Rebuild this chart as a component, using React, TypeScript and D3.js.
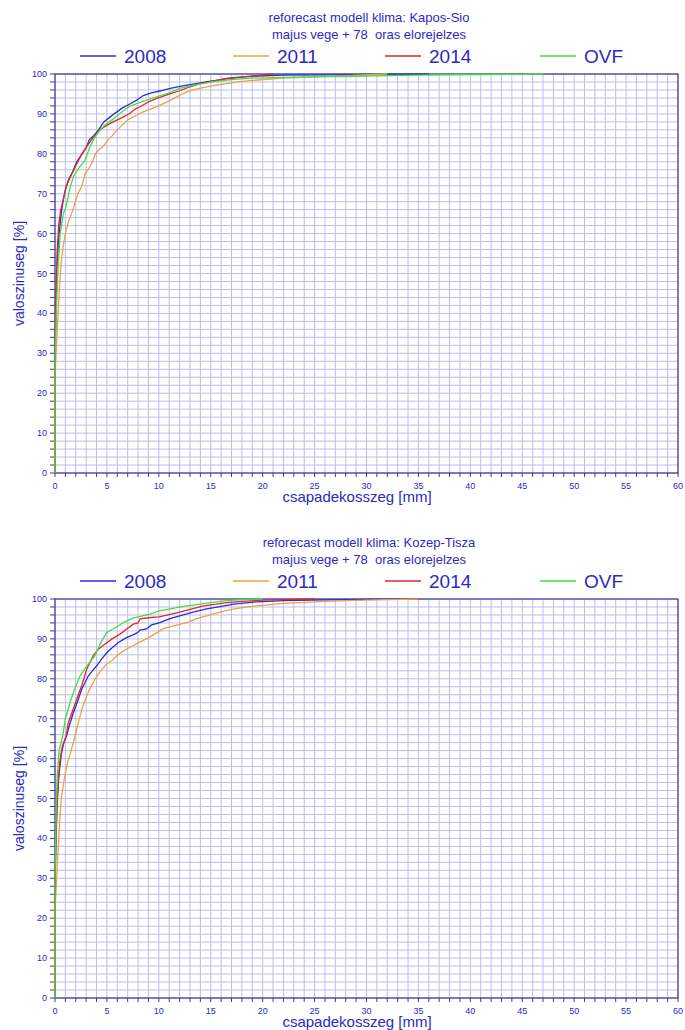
import React from "react";
import * as d3 from "d3";

const seriesNames = ["2008", "2011", "2014", "OVF"];
const seriesColors = ["#2b2bd8", "#f0a040", "#e02828", "#40e040"];
const xTicks = [0, 5, 10, 15, 20, 25, 30, 35, 40, 45, 50, 55, 60];
const yTicks = [0, 10, 20, 30, 40, 50, 60, 70, 80, 90, 100];

const titleTop = "reforecast modell klima: Kapos-Sio";
const titleBottom = "reforecast modell klima: Kozep-Tisza";
const subtitle = "majus vege + 78  oras elorejelzes";
const xLabel = "csapadekosszeg [mm]";
const yLabel = "valoszinuseg [%]";

type P = [number, number];

const kap2008: P[] = [[0,0],[0,30],[0.1,42],[0.2,52],[0.4,60],[0.6,65],[0.8,68.5],[1.0,71],[1.3,73.5],[1.7,75.5],[2.1,78],[2.6,80],[3.0,81.5],[3.3,83.5],[3.7,84.5],[4.2,86],[4.7,88],[5.2,89],[5.8,90.2],[6.5,91.5],[7.3,92.6],[7.9,93.5],[8.5,94.6],[9.2,95.2],[10.2,95.8],[11.1,96.4],[12.3,97],[13.6,97.6],[15,98.2],[16.5,98.8],[18,99.2],[19.5,99.5],[22,99.7],[26,99.8],[30,99.9],[36,100]];
const kap2011: P[] = [[0,0],[0,24],[0.2,35],[0.4,45],[0.6,53],[0.8,57],[1.0,60],[1.3,63],[1.6,65],[1.9,67.5],[2.2,70],[2.6,72],[2.9,75],[3.3,76.5],[3.6,78],[3.9,80],[4.3,81.2],[4.7,82],[5.1,83.5],[5.5,84.5],[6.0,86],[6.4,87],[7.0,88.5],[7.6,89.3],[8.2,90.2],[9,91],[9.8,91.8],[10.4,92.5],[11.1,93.4],[11.9,94.5],[12.7,95.5],[13.6,96.2],[14.6,96.8],[16,97.4],[17.8,98.1],[19.5,98.5],[22,99],[25,99.3],[28,99.6],[32,100]];
const kap2014: P[] = [[0,0],[0,30],[0.1,45],[0.2,55],[0.35,62],[0.55,66],[0.8,68.5],[1.1,72],[1.5,74.3],[2.0,77],[2.6,80],[3.05,81.8],[3.6,83.8],[4.3,86],[4.9,87],[5.6,88],[6.4,89],[7.2,90.1],[7.7,91.2],[8.2,91.8],[9,93],[9.8,93.9],[10.9,94.9],[12,95.8],[13,96.8],[14,97.6],[15.3,98.2],[16.5,98.9],[18,99.3],[19.5,99.6],[21,100]];
const kapOVF: P[] = [[0,0],[0,28],[0.15,42],[0.3,52],[0.5,60],[0.8,65],[1.06,66.7],[1.4,71],[1.77,74.3],[2.3,76.5],[2.9,78.4],[3.37,81.8],[3.8,84],[4.2,85.5],[4.8,87.2],[5.5,88.5],[6.2,90],[7.1,91.8],[8.3,93],[9.8,94.3],[11,95.3],[12,96.4],[13.5,97.3],[15.3,98.1],[17,98.6],[18.5,98.9],[21,99.1],[25,99.3],[30,99.5],[35,99.7],[40,99.85],[47,100]];

const tis2008: P[] = [[0,0],[0,27],[0.1,40],[0.2,48],[0.35,55],[0.6,61],[0.85,64],[1.1,65.6],[1.4,68.5],[1.77,71.5],[2.2,74.5],[2.57,77.4],[3.2,80.7],[3.6,82],[4.0,83.2],[4.5,85],[5.0,86.6],[5.5,87.8],[6.1,89.1],[6.8,90.2],[7.5,91],[7.9,91.5],[8.2,92.2],[8.8,92.5],[9.3,93.5],[10.1,94.1],[11,95],[12,95.8],[13.3,96.7],[14.6,97.5],[15.9,98.1],[17.2,98.7],[19.4,99.3],[22,99.6],[26,99.8],[30,99.9],[35,100]];
const tis2011: P[] = [[0,0],[0,22],[0.2,32],[0.4,42],[0.6,50],[0.9,55],[1.2,59],[1.5,61.5],[1.93,65.6],[2.25,69],[2.6,72.5],[3.05,75.7],[3.45,78],[3.85,79.9],[4.4,82],[4.98,83.7],[5.5,84.6],[5.94,85.8],[6.5,86.8],[7.2,87.9],[8,89],[8.8,90],[9.6,91.2],[10.4,92.5],[11.5,93.3],[12.7,94.1],[13.6,95],[14.6,95.8],[15.9,96.7],[17.2,97.5],[19.4,98.3],[22,98.9],[25,99.3],[28,99.6],[31,99.8],[35,100]];
const tis2014: P[] = [[0,0],[0,30],[0.1,42],[0.25,52],[0.45,59],[0.7,63],[1.06,65.6],[1.28,69],[1.7,72],[2.09,74.9],[2.6,78.5],[3.05,82.4],[3.69,85.8],[4.2,87.5],[4.82,88.7],[5.5,90],[6.26,91.2],[6.9,92.5],[7.54,93.7],[8.0,94],[8.2,95],[9,95.3],[10,95.5],[11,96.1],[12,96.7],[13.2,97.5],[14.3,98.3],[15.5,98.7],[16.5,99.1],[18,99.4],[20,99.7],[22,99.85],[25,100]];
const tisOVF: P[] = [[0,0],[0,30],[0.1,45],[0.2,55],[0.4,62],[0.74,65.6],[1.0,70],[1.44,74],[1.9,77.5],[2.4,80.7],[3.1,83.3],[3.85,85.8],[4.4,89],[4.98,91.6],[5.8,92.8],[6.6,94.1],[7.5,95.2],[9.15,96.2],[10,97],[11.1,97.5],[12.5,98.2],[14,98.7],[15.3,99.2],[16.5,99.6],[18,99.85],[20,100]];

const FONT = "'Liberation Sans', Arial, Helvetica, sans-serif";
const TEXT = "#2a2ac8";
const GRID = "#bcbcef";
const AXIS = "#3a3a96";

const W = 685;
const H = 1030;

function Panel({ top, title, series }: { top: number; title: string; series: P[][] }) {
  const plotTop = top + 74;
  const plotBottom = top + 473;
  const x = d3.scaleLinear().domain([0, 60]).range([55, 678]);
  const y = d3.scaleLinear().domain([0, 100]).range([plotBottom, plotTop]);
  const line = d3.line<P>().x((d) => x(d[0])).y((d) => y(d[1]));
  const xMinor = d3.range(0, 61, 1);
  const yMinor = d3.range(0, 101, 2);
  const legendX = [80, 233, 385, 540];
  return (
    <g>
      <text x={369} y={top + 22} textAnchor="middle" fontFamily={FONT} fontSize={13} fill={TEXT}>{title}</text>
      <text x={369} y={top + 39} textAnchor="middle" fontFamily={FONT} fontSize={13} fill={TEXT} style={{ whiteSpace: "pre" }}>{subtitle}</text>
      {seriesNames.map((n, i) => (
        <g key={n}>
          <line x1={legendX[i]} x2={legendX[i] + 36} y1={top + 56} y2={top + 56} stroke={seriesColors[i]} strokeWidth={1.4} />
          <text x={legendX[i] + 44} y={top + 63} fontFamily={FONT} fontSize={19} fill={TEXT}>{n}</text>
        </g>
      ))}
      {xMinor.map((v) => (
        <line key={"gx" + v} x1={x(v)} x2={x(v)} y1={plotTop} y2={plotBottom} stroke={GRID} strokeWidth={1} />
      ))}
      {yMinor.map((v) => (
        <line key={"gy" + v} x1={x(0)} x2={x(60)} y1={y(v)} y2={y(v)} stroke={GRID} strokeWidth={1} />
      ))}
      {yMinor.map((v) => (
        <line key={"ty" + v} x1={x(0) - 5} x2={x(0)} y1={y(v)} y2={y(v)} stroke={AXIS} strokeWidth={1} />
      ))}
      {xMinor.map((v) => (
        <line key={"tx" + v} x1={x(v)} x2={x(v)} y1={plotBottom} y2={plotBottom + 4} stroke={AXIS} strokeWidth={1} />
      ))}
      <rect x={x(0)} y={plotTop} width={x(60) - x(0)} height={plotBottom - plotTop} fill="none" stroke={AXIS} strokeWidth={1.2} />
      {yTicks.map((v) => (
        <text key={"ly" + v} x={x(0) - 8} y={y(v) + 3} textAnchor="end" fontFamily={FONT} fontSize={9} fill={TEXT}>{v}</text>
      ))}
      {xTicks.map((v) => (
        <text key={"lx" + v} x={x(v)} y={plotBottom + 16} textAnchor="middle" fontFamily={FONT} fontSize={9} fill={TEXT}>{v}</text>
      ))}
      {series.map((s, i) => (
        <path key={"s" + i} d={line(s) || ""} fill="none" stroke={seriesColors[i]} strokeWidth={1.3} />
      ))}
      <text x={357} y={plotBottom + 29} textAnchor="middle" fontFamily={FONT} fontSize={15} fill={TEXT}>{xLabel}</text>
      <text transform={`translate(24, ${(plotTop + plotBottom) / 2}) rotate(-90)`} textAnchor="middle" fontFamily={FONT} fontSize={14} fill={TEXT}>{yLabel}</text>
    </g>
  );
}

export default function App() {
  return (
    <svg width={W} height={H} style={{ position: "absolute", left: 0, top: 0, background: "#fff" }}>
      <rect width={W} height={H} fill="#fff" />
      <Panel top={0} title={titleTop} series={[kap2008, kap2011, kap2014, kapOVF]} />
      <Panel top={525} title={titleBottom} series={[tis2008, tis2011, tis2014, tisOVF]} />
    </svg>
  );
}
